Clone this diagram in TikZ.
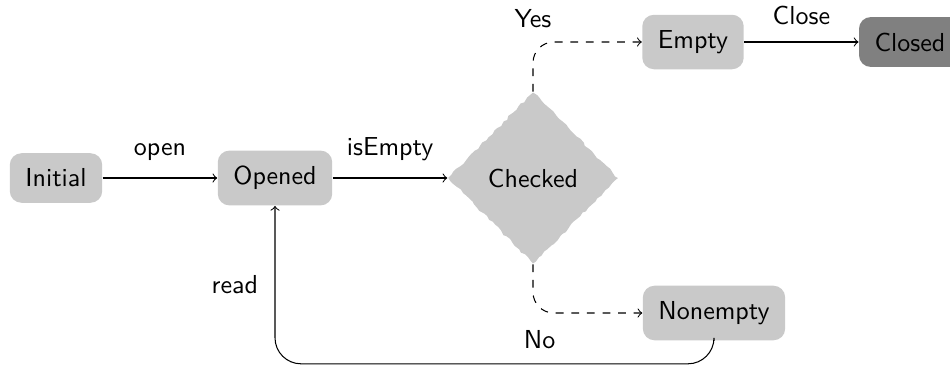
\documentclass[tikz,border=0pt]{standalone}
\usetikzlibrary{shapes.geometric,decorations.pathmorphing}
\begin{document}
\begin{tikzpicture}[x=0.3846pt,y=-0.3846pt,font=\sffamily,
  state/.style={draw=none,fill=black!21,rounded corners=4.5pt,inner sep=6pt},
  final/.style={state,fill=black!50},
  decision/.style={diamond,fill=black!21,inner sep=0pt,minimum width=65.5pt,minimum height=66pt,
    decorate,decoration={random steps,segment length=1.6pt,amplitude=0.45pt}},
  lbl/.style={inner sep=3.33pt},
  every path/.style={line width=0.4pt}]
\useasboundingbox (0,0) rectangle (950,367);
\node[state] (initial) at (56,178) {Initial};
\node[state] (opened) at (275,178) {Opened};
\node[decision] (checked) at (533,178) {Checked};
\node[state] (empty) at (693,42) {Empty};
\node[final] (closed) at (910,42) {Closed};
\node[state] (nonempty) at (714,313) {Nonempty};

\draw[->] (initial) -- node[lbl,above=3pt]{open} (opened);
\draw[->] (opened) -- node[lbl,above=3pt]{isEmpty} (checked);
\draw[->,dashed,rounded corners=8pt] (checked.north) |- node[lbl,above=2pt,pos=0.5]{Yes} (empty.west);
\draw[->,dashed,rounded corners=8pt] (checked.south) |- node[lbl,below=3pt,pos=0.53]{No} (nonempty.west);
\draw[->] (empty) -- node[lbl,above=3pt]{Close} (closed);
\draw[->,rounded corners=10pt] (nonempty.south) -- ++(0,23) -| node[lbl,left=3pt,pos=0.75]{read} (opened.south);
\end{tikzpicture}
\end{document}
